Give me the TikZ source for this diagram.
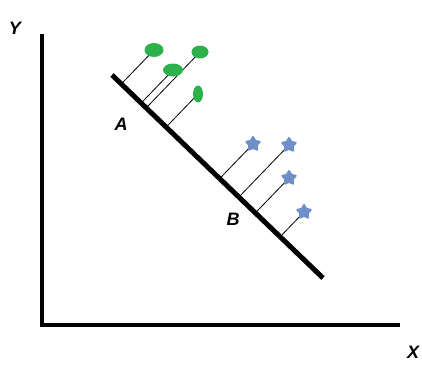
\documentclass[tikz,border=0pt]{standalone}
\usepackage{fontspec}
\setmainfont{Liberation Sans}
\usetikzlibrary{calc,shapes.geometric,backgrounds}
\definecolor{leaf}{HTML}{2DB14B}
\definecolor{steel}{HTML}{6F8FC8}

\begin{document}
\begin{tikzpicture}[x=1pt,y=-1pt,
    axis/.style={line width=4.5pt},
    proj/.style={line width=0.8pt},
    dot/.style={ellipse, fill=leaf, inner sep=0pt},
    flower/.style={star, star points=5, star point ratio=1.8, fill=steel, draw=steel,
                   line join=round, line width=2pt, minimum size=14pt, inner sep=0pt},
    lbl/.style={font=\bfseries\itshape\fontsize{18}{18}\selectfont}]
    \useasboundingbox (0,0) rectangle (422,364);
    % axes
    \coordinate (ytop) at (42,34);
    \coordinate (orig) at (42,325);
    \coordinate (xend) at (400,325);
    \draw[axis] (ytop) -- (orig) -- (xend);
    \node[lbl] (ylab) at (15,28) {Y};
    \node[lbl] (xlab) at (413,352) {X};
    % the projection line
    \coordinate (la) at (112,75);
    \coordinate (lb) at (323,278);
    \draw[line width=5pt] (la) -- (lb);
    \node[lbl] (A) at (121,124) {A};
    \node[lbl] (B) at (233,219) {B};
    % green points
    \node[dot, minimum width=19pt, minimum height=14pt] (g1) at (154,50) {};
    \node[dot, minimum width=17pt, minimum height=13pt] (g2) at (200,52) {};
    \node[dot, minimum width=20pt, minimum height=13pt] (g3) at (173,70) {};
    \node[dot, minimum width=10pt, minimum height=17pt] (g4) at (198,94) {};
    % blue points
    \node[flower] (s1) at (253,144) {};
    \node[flower] (s2) at (289,145) {};
    \node[flower] (s3) at (289,178) {};
    \node[flower] (s4) at (304,212) {};
    % projections onto the line
    \begin{scope}[on background layer]
      \foreach \p in {g1,g2,g3,g4,s1,s2,s3,s4}
        \draw[proj] (\p.center) -- ($(la)!(\p.center)!(lb)$);
    \end{scope}
\end{tikzpicture}
\end{document}
